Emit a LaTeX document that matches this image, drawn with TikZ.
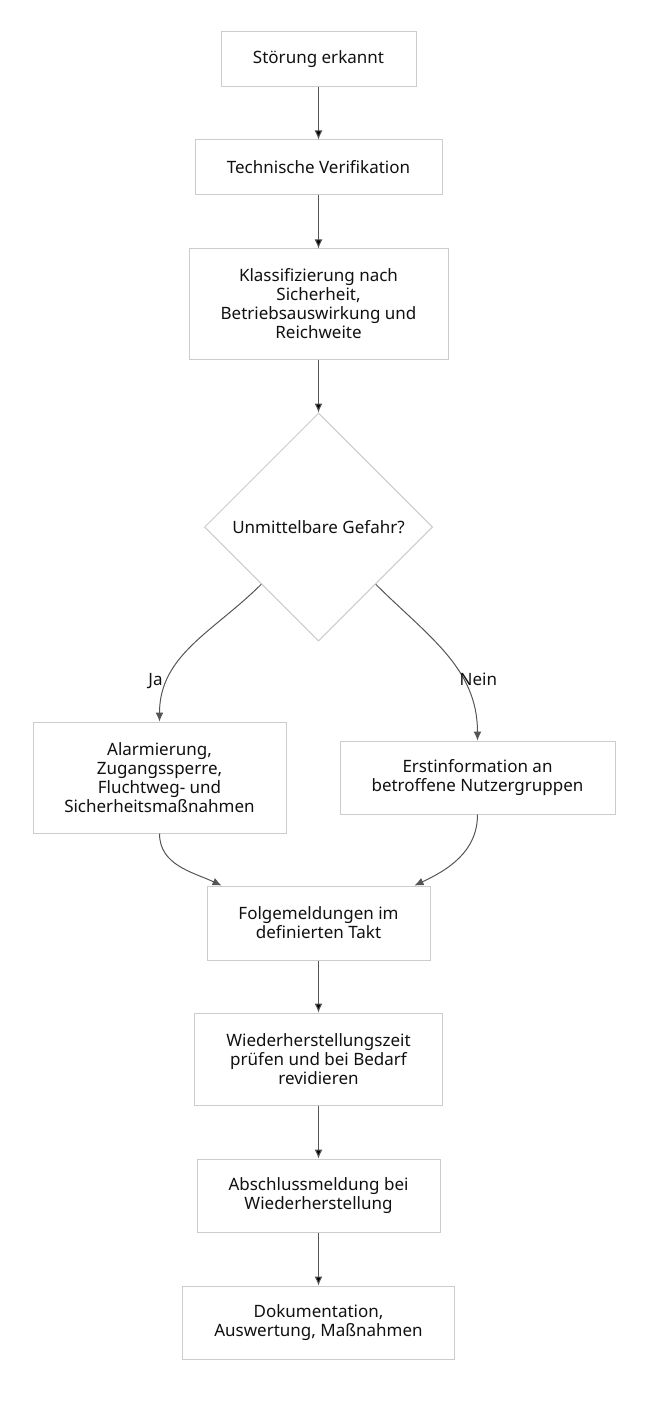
\documentclass[tikz,border=0pt]{standalone}
\usepackage{fontspec}
\setmainfont{Noto Sans}
\usetikzlibrary{positioning,shapes.geometric,arrows.meta}
\definecolor{boxgray}{HTML}{CCCCCC}
\definecolor{arrowgray}{HTML}{555555}
\definecolor{textgray}{HTML}{111111}
\tikzset{
	stepbox/.style={rectangle, draw=boxgray, fill=white, line width=1pt, align=center, text=textgray,
		font=\fontsize{17}{19}\selectfont, inner xsep=30pt, inner ysep=17pt},
	flow/.style={-{Latex[length=9pt,width=8pt]}, draw=arrowgray, line width=1pt},
	edgelabel/.style={text=textgray, font=\fontsize{17}{19}\selectfont}
}
\begin{document}
\begin{tikzpicture}[x=1pt, y=-1pt, node distance = 108pt and 100pt, on grid]
	\useasboundingbox (0,0) rectangle (648,1404);
			\node [stepbox, minimum width=195pt, minimum height=55pt] (S1) at (318.5,59.5) {Störung erkannt};
			\node [stepbox, minimum width=247pt, minimum height=55pt] (S2) [below =108pt of S1] {Technische Verifikation};
			\node [stepbox, minimum width=259pt, minimum height=110pt] (S3) [below =136.5pt of S2] {Klassifizierung nach\\Sicherheit,\\Betriebsauswirkung und\\Reichweite};
			\node [diamond, aspect=1, draw=boxgray, fill=white, line width=1pt, text=textgray, inner sep=0pt,
				minimum size=228pt, font=\fontsize{17}{19}\selectfont] (D1) [below =223pt of S3] {Unmittelbare Gefahr?};
			\node [stepbox, minimum width=253pt, minimum height=111pt] (A1) [below left =250.5pt and 159pt of D1] {Alarmierung,\\Zugangssperre,\\Fluchtweg- und\\Sicherheitsmaßnahmen};
			\node [stepbox, minimum width=275pt, minimum height=73pt] (N1) [below right =250.5pt and 159pt of D1] {Erstinformation an\\betroffene Nutzergruppen};
			\node [stepbox, minimum width=223pt, minimum height=74pt] (S4) [below =396pt of D1] {Folgemeldungen im\\definierten Takt};
			\node [stepbox, minimum width=248pt, minimum height=92pt] (S5) [below =136pt of S4] {Wiederherstellungszeit\\prüfen und bei Bedarf\\revidieren};
			\node [stepbox, minimum width=243pt, minimum height=73pt] (S6) [below =136.5pt of S5] {Abschlussmeldung bei\\Wiederherstellung};
			\node [stepbox, minimum width=272pt, minimum height=73pt] (S7) [below =127pt of S6] {Dokumentation,\\Auswertung, Maßnahmen};
			\path [flow] (S1) edge (S2);
			\path [flow] (S2) edge (S3);
			\path [flow] (S3) edge (D1);
			\draw [flow] (D1.south west) to [out=-135, in=90] node [edgelabel, pos=0.77, left=1pt] {Ja} (A1.north);
			\draw [flow] (D1.south east) to [out=-45, in=90] node [edgelabel, pos=0.67, right=-7pt] {Nein} (N1.north);
			\draw [flow] (A1.south) to [out=-90, in=155] ([xshift=15pt]S4.north west);
			\draw [flow] (N1.south) to [out=-90, in=25] ([xshift=-16pt]S4.north east);
			\path [flow] (S4) edge (S5);
			\path [flow] (S5) edge (S6);
			\path [flow] (S6) edge (S7);
		\end{tikzpicture}
\end{document}
